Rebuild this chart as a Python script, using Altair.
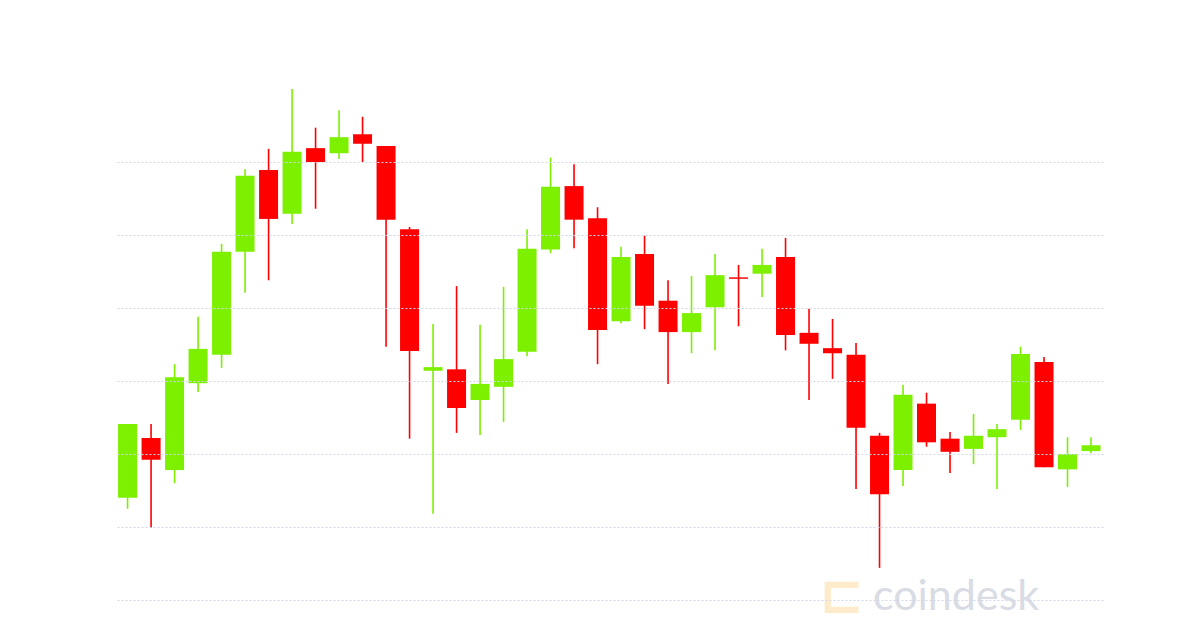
import altair as alt
import pandas as pd

# Candle OHLC values
opens = [9540, 9622, 9578, 9697, 9736, 9877, 9989, 9929, 10019, 10012, 10038, 10022, 9908, 9714,
         9716, 9674, 9692, 9740, 9880, 9967, 9923, 9782, 9874, 9810, 9767, 9801, 9842, 9847,
         9870, 9766, 9745, 9736, 9625, 9578, 9669, 9621, 9607, 9623, 9647, 9726, 9579, 9604]
closes = [9641, 9592, 9705, 9744, 9877, 9981, 9922, 10014, 10000, 10034, 10025, 9921, 9741, 9719,
          9663, 9696, 9730, 9881, 9966, 9921, 9770, 9870, 9803, 9767, 9793, 9845, 9840, 9859,
          9763, 9751, 9738, 9636, 9545, 9681, 9616, 9603, 9625, 9634, 9737, 9582, 9600, 9612]
highs = [9641, 9641, 9723, 9788, 9888, 9990, 10018, 10100, 10047, 10071, 10062, 10022, 9911, 9778,
         9830, 9777, 9829, 9908, 10006, 9997, 9938, 9884, 9899, 9838, 9844, 9874, 9859, 9881,
         9896, 9799, 9785, 9752, 9629, 9695, 9684, 9630, 9655, 9641, 9747, 9733, 9623, 9623]
lows = [9525, 9499, 9560, 9685, 9718, 9821, 9838, 9915, 9936, 10004, 10000, 9747, 9621, 9518,
        9629, 9626, 9644, 9734, 9875, 9882, 9723, 9779, 9771, 9696, 9738, 9742, 9775, 9815,
        9742, 9674, 9703, 9552, 9444, 9556, 9610, 9574, 9586, 9552, 9633, 9582, 9555, 9601]
grid_values = [9400, 9500, 9600, 9700, 9800, 9900, 10000]

GREEN = "#7DF000"
RED = "#FF0000"

df = pd.DataFrame({
    "i": list(range(len(opens))),
    "open": opens, "close": closes, "high": highs, "low": lows,
})
df["dir"] = ["up" if c >= o else "down" for o, c in zip(opens, closes)]

x = alt.X("i:Q", scale=alt.Scale(domain=[-0.45, 41.51], nice=False, zero=False, padding=0), axis=None)
yscale = alt.Scale(domain=[9400, 10100], nice=False, zero=False, padding=0)
color = alt.Color("dir:N", scale=alt.Scale(domain=["up", "down"], range=[GREEN, RED]), legend=None)

wicks = alt.Chart(df).mark_rule(strokeWidth=1.6).encode(
    x=x,
    y=alt.Y("low:Q", scale=yscale,
            axis=alt.Axis(values=grid_values, labels=False, ticks=False, domain=False,
                          grid=True, gridColor="#D3D6E6", gridDash=[2, 2], gridWidth=1.2,
                          title=None, zindex=1)),
    y2="high:Q",
    color=color,
)

bodies = alt.Chart(df).mark_bar(size=19).encode(
    x=x,
    y=alt.Y("open:Q", scale=yscale),
    y2="close:Q",
    color=color,
)

logo_text = alt.Chart(pd.DataFrame({"t": ["coindesk"]})).mark_text(
    font="Lato", fontSize=43, color="#D9DCE4", align="left", baseline="alphabetic"
).encode(text="t:N", x=alt.value(756), y=alt.value(521))

logo_icon = alt.Chart(pd.DataFrame({"t": ["⊏"]})).mark_text(
    font="DejaVu Sans", fontSize=54, fontWeight="bold", color="#FDEBCB", align="left", baseline="alphabetic"
).encode(text="t:N", x=alt.value(702), y=alt.value(524))

chart = alt.layer(wicks, bodies, logo_icon, logo_text).properties(
    width=986, height=511,
    padding={"left": 109, "top": 80, "right": 5, "bottom": 20},
).configure_view(stroke=None)

chart.save("out.html", embed_options={"renderer": "svg", "actions": False})
